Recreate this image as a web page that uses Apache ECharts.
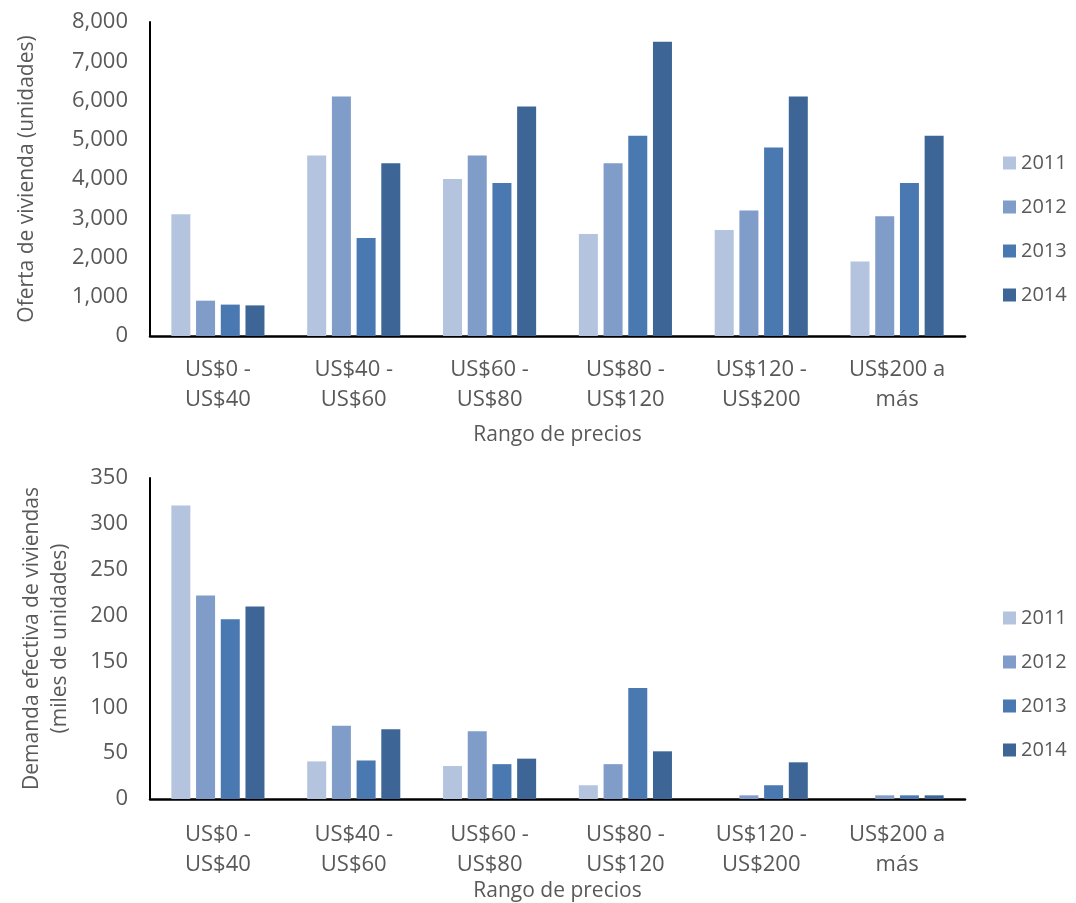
<!DOCTYPE html>
<html>
<head>
<meta charset="utf-8">
<script src="https://cdn.jsdelivr.net/npm/echarts@6/dist/echarts.min.js"></script>
<style>
  html, body { margin: 0; padding: 0; background: #fff; }
  #main { width: 1076px; height: 903px; }
</style>
</head>
<body>
<div id="main"></div>
<script>
// rangos de precio y años
var categorias = ['US$0 -\nUS$40', 'US$40 -\nUS$60', 'US$60 -\nUS$80', 'US$80 -\nUS$120', 'US$120 -\nUS$200', 'US$200 a\nmás'];
var anios = ['2011', '2012', '2013', '2014'];

// oferta de vivienda (unidades)
var oferta2011 = [3100, 4600, 4000, 2600, 2700, 1900];
var oferta2012 = [900, 6100, 4600, 4400, 3200, 3050];
var oferta2013 = [800, 2500, 3900, 5100, 4800, 3900];
var oferta2014 = [780, 4400, 5850, 7500, 6100, 5100];

// demanda efectiva (miles de unidades)
var demanda2011 = [320, 41, 36, 15, 0, 0];
var demanda2012 = [222, 80, 74, 38, 4, 4];
var demanda2013 = [196, 42, 38, 121, 15, 4];
var demanda2014 = [210, 76, 44, 52, 40, 4];

var colores = ['#b4c4de', '#809cc8', '#4a79b1', '#3d6697'];
var fuente = '"Open Sans", sans-serif';
var gris = '#595959';

var myChart = echarts.init(document.getElementById('main'));

function ejeX(idx, margen, gap) {
    return {
        type: 'category',
        gridIndex: idx,
        data: categorias,
        name: 'Rango de precios',
        nameLocation: 'middle',
        nameGap: gap,
        nameTextStyle: { color: gris, fontSize: 21, fontFamily: fuente },
        axisLine: { lineStyle: { color: '#000', width: 2.5 } },
        axisTick: { show: false },
        axisLabel: {
            color: gris, fontSize: 22, fontFamily: fuente,
            lineHeight: 30, margin: margen, interval: 0
        }
    };
}

function ejeY(idx, max, intervalo, nombre, gap, fmt) {
    return {
        type: 'value',
        gridIndex: idx,
        min: 0,
        max: max,
        interval: intervalo,
        name: nombre,
        nameLocation: 'middle',
        nameGap: gap,
        nameTextStyle: { color: gris, fontSize: 21, fontFamily: fuente, lineHeight: 28 },
        axisLine: { show: true, lineStyle: { color: '#000', width: 2 } },
        axisTick: { show: false },
        splitLine: { show: false },
        axisLabel: { color: gris, fontSize: 22, fontFamily: fuente, margin: 22, formatter: fmt }
    };
}

function serie(nombre, datos, idx, c) {
    return {
        name: nombre,
        type: 'bar',
        xAxisIndex: idx,
        yAxisIndex: idx,
        data: datos,
        barWidth: 19,
        barGap: '30%',
        itemStyle: { color: colores[c], borderWidth: 0 }
    };
}

function leyenda(top) {
    return {
        data: anios,
        orient: 'vertical',
        left: 998,
        top: top,
        itemWidth: 13,
        itemHeight: 13,
        itemGap: 24,
        icon: 'rect',
        textStyle: { color: gris, fontSize: 20, fontFamily: fuente }
    };
}

myChart.setOption({
    animation: false,
    grid: [
        { left: 150, right: 111, top: 22, height: 314 },
        { left: 150, right: 111, top: 478, height: 321 }
    ],
    legend: [leyenda(148), leyenda(603)],
    xAxis: [ejeX(0, 19, 89), ejeX(1, 21, 76)],
    yAxis: [
        ejeY(0, 8000, 1000, 'Oferta de vivienda (unidades)', 109, function (v) {
            return v.toLocaleString('en-US');
        }),
        ejeY(1, 350, 50, 'Demanda efectiva de viviendas\n(miles de unidades)', 76, '{value}')
    ],
    series: [
        serie('2011', oferta2011, 0, 0),
        serie('2012', oferta2012, 0, 1),
        serie('2013', oferta2013, 0, 2),
        serie('2014', oferta2014, 0, 3),
        serie('2011', demanda2011, 1, 0),
        serie('2012', demanda2012, 1, 1),
        serie('2013', demanda2013, 1, 2),
        serie('2014', demanda2014, 1, 3)
    ]
});
</script>
</body>
</html>
